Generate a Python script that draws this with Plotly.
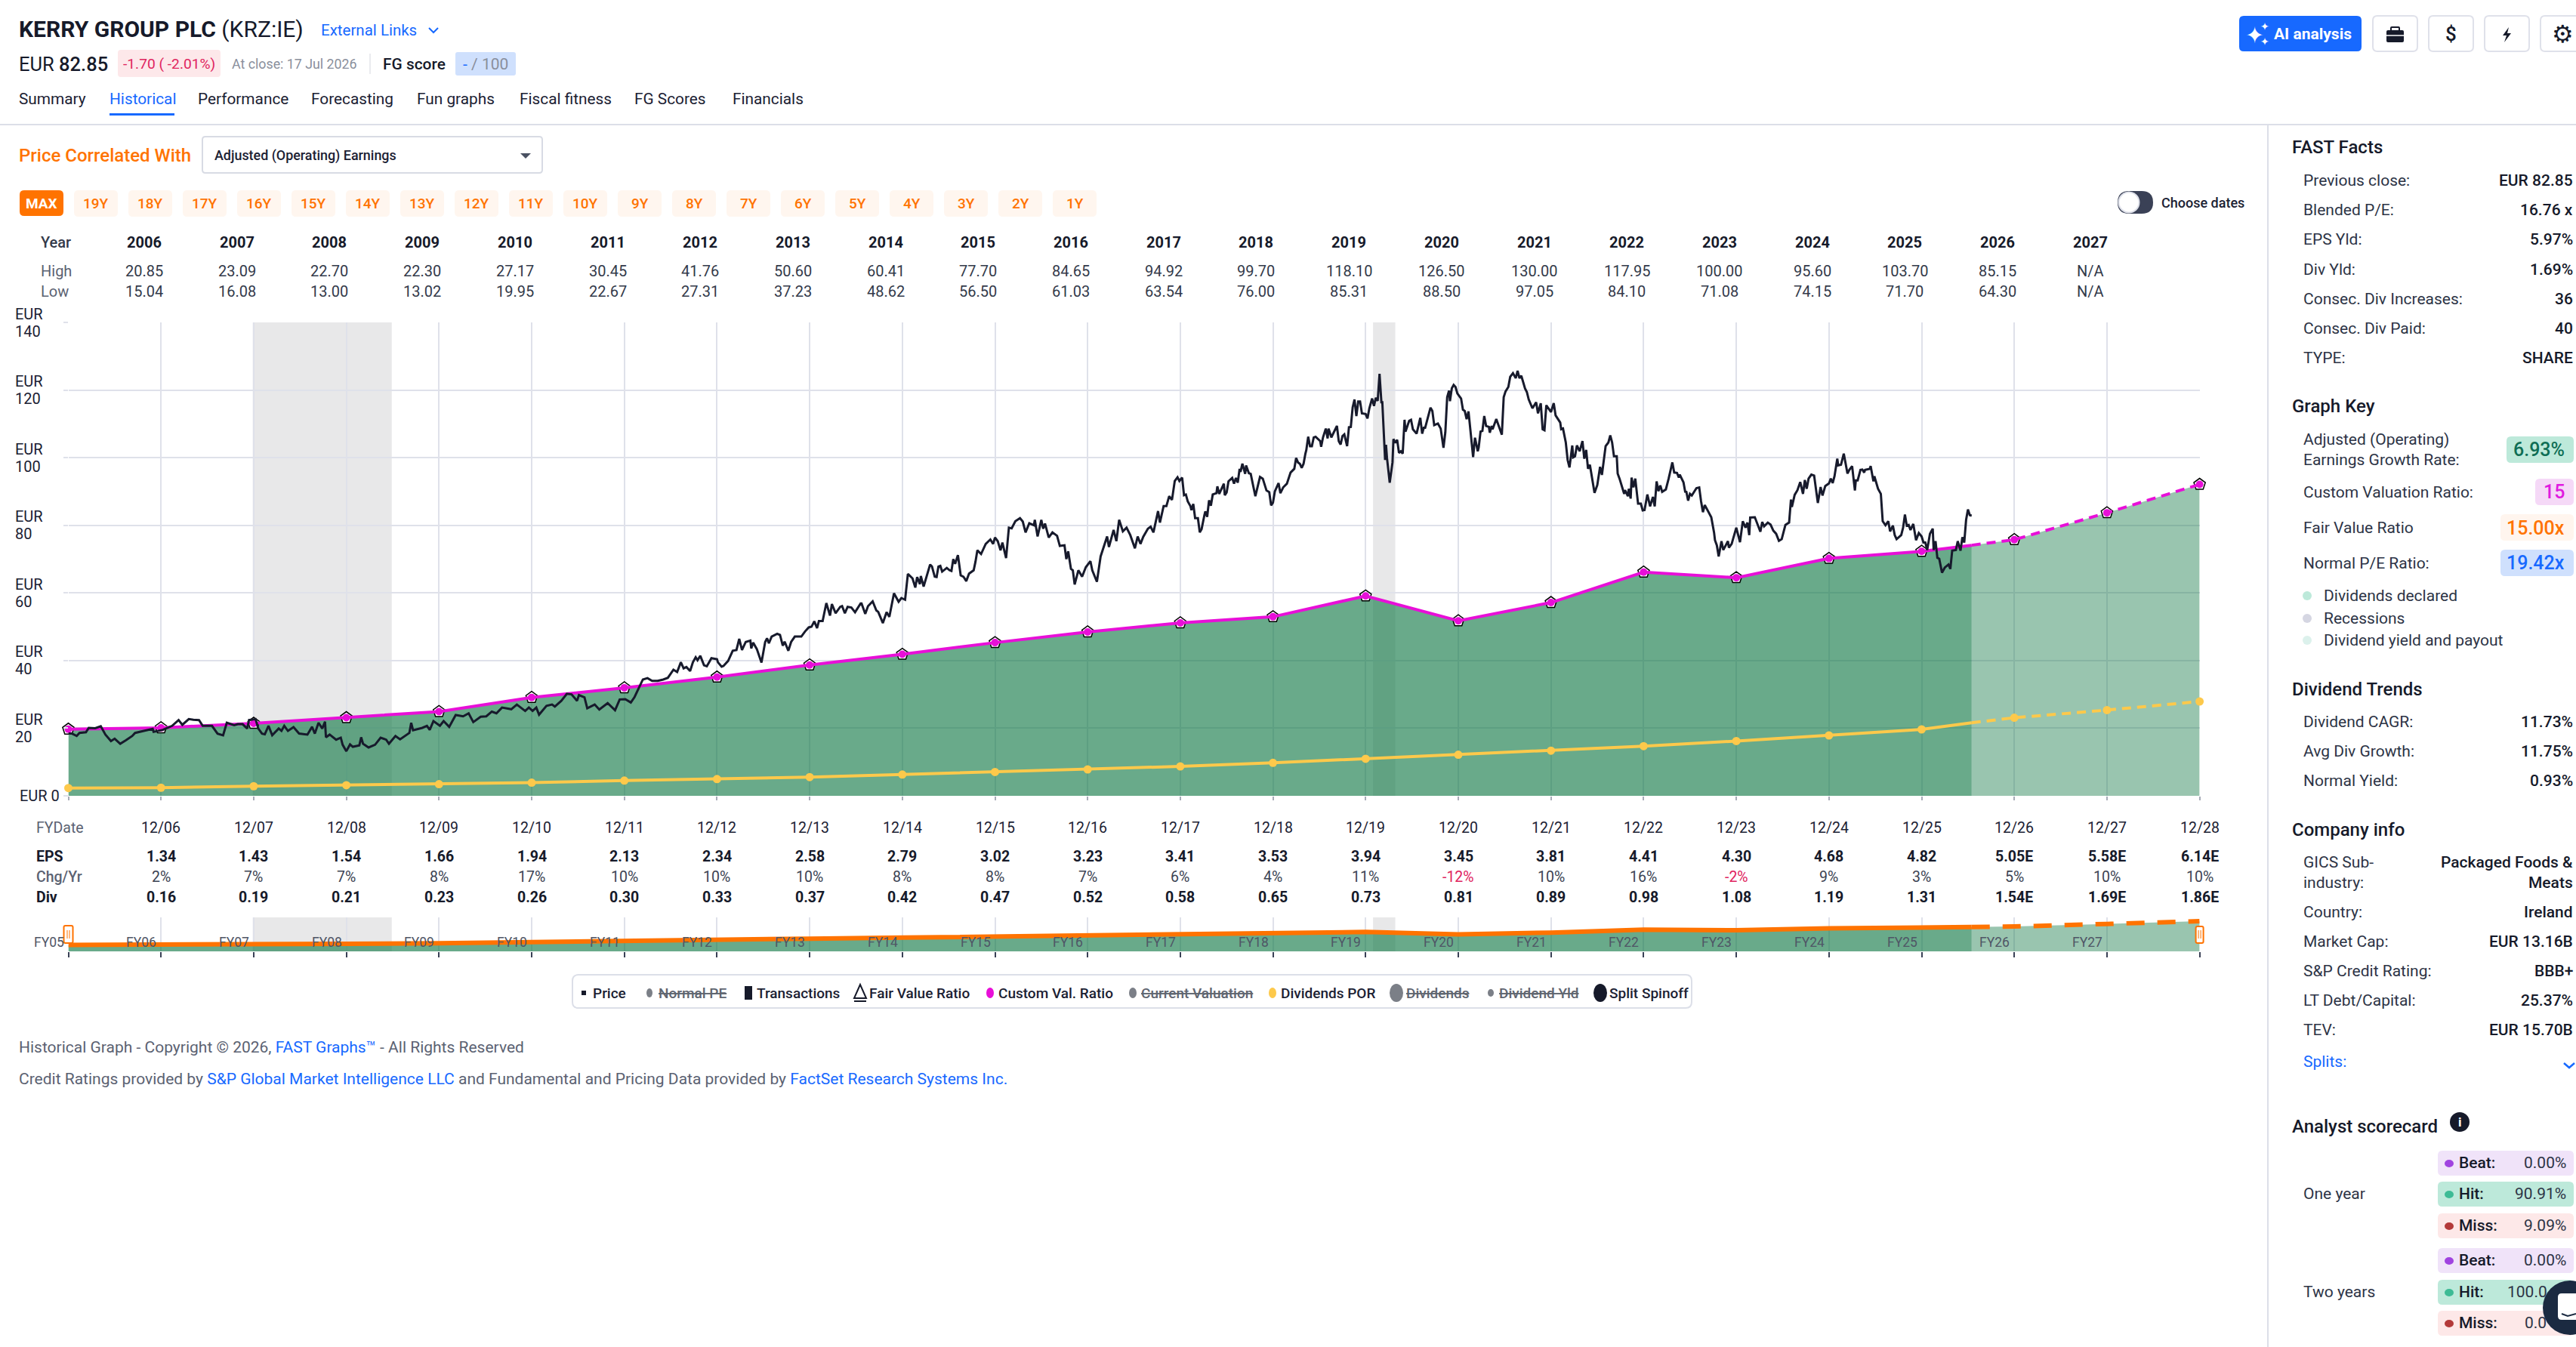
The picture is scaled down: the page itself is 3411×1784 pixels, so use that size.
import plotly.graph_objects as go

W, H = 3411, 1784
PLOT_L, PLOT_R, PLOT_T, PLOT_B = 90.5, 2912.6, 427, 1054
NAV_T, NAV_B = 1215, 1260

FONT = "Roboto, sans-serif"
DARK = "#1b2133"
GREY = "#5b6272"
BLUE = "#1769ff"
ORANGE = "#ff7300"
MAGENTA = "#e80fd8"
YELLOW = "#fdc94b"
CRIMSON = "#e0245e"
GRID = "#dfe1ea"

# x positions on the chart are decimal calendar years, so 12/05 sits at 2006.0
years = ["2006", "2007", "2008", "2009", "2010", "2011", "2012", "2013", "2014", "2015", "2016",
         "2017", "2018", "2019", "2020", "2021", "2022", "2023", "2024", "2025", "2026", "2027"]
high = ["20.85", "23.09", "22.70", "22.30", "27.17", "30.45", "41.76", "50.60", "60.41", "77.70", "84.65",
        "94.92", "99.70", "118.10", "126.50", "130.00", "117.95", "100.00", "95.60", "103.70", "85.15", "N/A"]
low = ["15.04", "16.08", "13.00", "13.02", "19.95", "22.67", "27.31", "37.23", "48.62", "56.50", "61.03",
       "63.54", "76.00", "85.31", "88.50", "97.05", "84.10", "71.08", "74.15", "71.70", "64.30", "N/A"]

fy_dates = ["12/06", "12/07", "12/08", "12/09", "12/10", "12/11", "12/12", "12/13", "12/14", "12/15", "12/16", "12/17",
            "12/18", "12/19", "12/20", "12/21", "12/22", "12/23", "12/24", "12/25", "12/26", "12/27", "12/28"]
eps = ["1.34", "1.43", "1.54", "1.66", "1.94", "2.13", "2.34", "2.58", "2.79", "3.02", "3.23", "3.41",
       "3.53", "3.94", "3.45", "3.81", "4.41", "4.30", "4.68", "4.82", "5.05E", "5.58E", "6.14E"]
chg = [2, 7, 7, 8, 17, 10, 10, 10, 8, 8, 7, 6, 4, 11, -12, 10, 16, -2, 9, 3, 5, 10, 10]
div = ["0.16", "0.19", "0.21", "0.23", "0.26", "0.30", "0.33", "0.37", "0.42", "0.47", "0.52", "0.58",
       "0.65", "0.73", "0.81", "0.89", "0.98", "1.08", "1.19", "1.31", "1.54E", "1.69E", "1.86E"]

fy_pos = [2006, 2007, 2008, 2009, 2010, 2011, 2012, 2013, 2014, 2015, 2016, 2017,
          2018, 2019, 2020, 2021, 2022, 2023, 2024, 2025, 2026, 2027, 2028, 2029]
fy_labels = ["FY05", "FY06", "FY07", "FY08", "FY09", "FY10", "FY11", "FY12", "FY13", "FY14", "FY15",
             "FY16", "FY17", "FY18", "FY19", "FY20", "FY21", "FY22", "FY23", "FY24", "FY25", "FY26", "FY27"]

# fair value and dividend lines, year ends plus the value at today's date
fair_value = [19.7, 20.1, 21.45, 23.1, 24.9, 29.1, 31.95, 35.1, 38.7, 41.85, 45.3, 48.45,
              51.15, 52.95, 59.1, 51.75, 57.15, 66.15, 64.5, 70.2, 72.3, 75.75, 83.7, 92.1]
div_por = [2.3, 2.4, 2.85, 3.15, 3.45, 3.9, 4.5, 4.95, 5.55, 6.3, 7.05, 7.8,
           8.7, 9.75, 10.95, 12.15, 13.35, 14.7, 16.2, 17.85, 19.65, 23.1, 25.35, 27.9]
today = 2026.54
fair_today = 74.1
por_today = 21.6

recessions = [(2007.99, 2009.49), (2020.08, 2020.32)]

# monthly-ish readings of the price line
price_a = [
    (2006.00, 18.4), (2006.04, 18.4), (2006.09, 17.7), (2006.12, 18.6), (2006.19, 18.8), (2006.22, 20.1),
    (2006.29, 20.0), (2006.35, 20.6), (2006.40, 18.1), (2006.46, 16.2), (2006.50, 16.9), (2006.56, 15.4),
    (2006.62, 16.4), (2006.69, 17.7), (2006.72, 18.6), (2006.81, 19.2), (2006.91, 19.8), (2006.92, 18.9),
    (2007.02, 19.5), (2007.12, 20.7), (2007.19, 22.4), (2007.23, 21.0), (2007.30, 22.7), (2007.35, 22.5),
    (2007.41, 22.4), (2007.45, 20.7), (2007.55, 20.7), (2007.61, 18.4), (2007.67, 17.9), (2007.71, 21.6),
    (2007.79, 20.9), (2007.83, 21.2), (2007.88, 21.2), (2007.93, 19.9), (2007.95, 22.4), (2008.02, 22.7),
    (2008.05, 19.9), (2008.09, 18.4), (2008.12, 18.2), (2008.16, 20.7), (2008.20, 17.9), (2008.27, 19.9),
    (2008.30, 19.2), (2008.33, 20.7), (2008.37, 19.2), (2008.43, 20.3), (2008.49, 18.4), (2008.58, 18.1),
    (2008.63, 20.4), (2008.66, 18.4), (2008.70, 21.6), (2008.74, 19.9), (2008.77, 21.9), (2008.78, 17.3),
    (2008.82, 18.1), (2008.89, 16.6), (2008.94, 17.2), (2008.96, 15.1), (2009.00, 13.2), (2009.04, 15.2),
    (2009.07, 14.5), (2009.14, 14.9), (2009.16, 17.3), (2009.18, 15.4), (2009.24, 14.3), (2009.31, 15.1),
    (2009.37, 17.2), (2009.43, 16.6), (2009.46, 15.4), (2009.53, 17.7), (2009.58, 16.7), (2009.68, 18.6),
    (2009.70, 21.6), (2009.72, 19.4), (2009.82, 20.1), (2009.87, 20.7), (2009.90, 19.5), (2009.94, 22.1),
    (2010.01, 20.7), (2010.05, 22.1), (2010.11, 20.4), (2010.18, 23.9), (2010.26, 23.5), (2010.32, 24.4),
    (2010.37, 21.8), (2010.45, 23.4), (2010.51, 23.5), (2010.57, 24.9), (2010.62, 24.4), (2010.68, 26.1),
    (2010.78, 25.6), (2010.84, 27.0), (2010.93, 25.1), (2010.97, 26.1), (2011.01, 25.1), (2011.05, 26.1),
    (2011.08, 24.0), (2011.16, 26.6), (2011.22, 27.0), (2011.25, 26.4), (2011.32, 28.1), (2011.38, 30.2),
    (2011.43, 30.0), (2011.49, 28.1), (2011.51, 29.8), (2011.57, 29.1), (2011.60, 25.9), (2011.68, 27.0),
    (2011.73, 25.5), (2011.82, 27.4), (2011.90, 25.3), (2011.95, 28.5), (2012.01, 28.6), (2012.07, 27.6),
    (2012.11, 29.2), (2012.20, 34.4), (2012.25, 34.8), (2012.30, 34.0), (2012.36, 34.0), (2012.42, 34.4),
    (2012.47, 34.9),
]
price_b = [
    (2012.53, 37.3), (2012.57, 36.6), (2012.61, 39.5), (2012.64, 37.7), (2012.67, 38.1), (2012.71, 36.9),
    (2012.74, 39.5), (2012.77, 41.0), (2012.79, 40.1), (2012.82, 41.4), (2012.86, 38.6), (2012.89, 38.3),
    (2012.94, 40.7), (2013.00, 40.4), (2013.01, 39.5), (2013.05, 38.2), (2013.07, 38.4), (2013.12, 39.9),
    (2013.17, 42.9), (2013.21, 43.1), (2013.24, 46.4), (2013.27, 43.1), (2013.31, 45.5), (2013.36, 45.9),
    (2013.37, 43.6), (2013.39, 45.3), (2013.43, 43.4), (2013.48, 39.4), (2013.52, 45.5), (2013.54, 46.6),
    (2013.56, 45.1), (2013.59, 47.1), (2013.65, 47.9), (2013.68, 47.6), (2013.71, 44.4), (2013.73, 45.6),
    (2013.77, 42.9), (2013.80, 45.5), (2013.84, 47.1), (2013.91, 47.1), (2013.95, 48.6), (2013.99, 49.8),
    (2014.02, 50.0), (2014.05, 51.6), (2014.08, 49.6), (2014.10, 51.7), (2014.14, 51.7), (2014.18, 57.0),
    (2014.22, 53.3), (2014.24, 56.7), (2014.28, 54.0), (2014.33, 55.9), (2014.35, 56.1), (2014.38, 54.0),
    (2014.41, 55.9), (2014.45, 55.7), (2014.49, 54.3), (2014.55, 56.9), (2014.56, 56.9), (2014.60, 53.8),
    (2014.63, 56.1), (2014.68, 57.5), (2014.72, 54.8), (2014.74, 54.4), (2014.79, 51.1), (2014.83, 54.3),
    (2014.86, 52.9), (2014.91, 59.9), (2014.96, 57.4), (2014.99, 58.5), (2015.03, 58.0), (2015.06, 65.6),
    (2015.11, 64.3), (2015.14, 61.6), (2015.16, 64.7), (2015.19, 62.6), (2015.20, 65.0), (2015.23, 61.9),
    (2015.30, 68.4), (2015.32, 67.8), (2015.35, 64.8), (2015.37, 64.7), (2015.39, 67.8), (2015.41, 68.0),
    (2015.43, 66.3), (2015.48, 67.4), (2015.51, 66.7), (2015.53, 66.5), (2015.55, 70.0), (2015.57, 68.6),
    (2015.60, 71.2), (2015.63, 65.2), (2015.66, 64.8), (2015.69, 63.5), (2015.72, 65.7), (2015.77, 66.7),
    (2015.79, 69.3), (2015.81, 72.6), (2015.85, 71.5), (2015.90, 74.5), (2015.95, 75.8), (2015.98, 74.5),
    (2016.00, 76.4), (2016.03, 75.3), (2016.06, 72.6), (2016.08, 74.9), (2016.12, 70.3), (2016.15, 79.3),
    (2016.18, 79.1), (2016.22, 81.2), (2016.27, 82.1), (2016.30, 81.1), (2016.33, 77.9), (2016.37, 80.6),
    (2016.42, 80.0), (2016.43, 81.6), (2016.46, 76.7), (2016.50, 81.6), (2016.52, 79.0), (2016.54, 80.5),
    (2016.58, 76.4), (2016.62, 77.9), (2016.67, 76.9), (2016.70, 73.9), (2016.75, 74.1), (2016.77, 70.0),
    (2016.79, 72.3), (2016.82, 67.1), (2016.84, 66.7), (2016.86, 62.5), (2016.90, 66.7), (2016.94, 64.8),
    (2016.98, 67.6), (2017.03, 69.4), (2017.05, 66.7), (2017.10, 63.3), (2017.14, 70.8), (2017.18, 74.5),
    (2017.21, 76.7), (2017.23, 73.6), (2017.28, 78.6), (2017.31, 75.3), (2017.34, 81.6), (2017.38, 78.2),
    (2017.42, 79.3), (2017.46, 77.1), (2017.51, 73.2), (2017.54, 76.7), (2017.57, 74.5), (2017.60, 76.6),
    (2017.65, 79.0), (2017.68, 79.6), (2017.71, 77.9), (2017.76, 84.2), (2017.78, 80.8), (2017.82, 85.7),
    (2017.85, 85.7), (2017.88, 88.6), (2017.91, 87.5), (2017.94, 93.1), (2017.97, 94.2), (2017.99, 93.1),
]
price_c = [
    (2018.02, 94.1), (2018.04, 88.9), (2018.06, 89.1), (2018.08, 87.1), (2018.11, 85.6), (2018.12, 84.5),
    (2018.14, 86.3), (2018.16, 82.1), (2018.19, 82.1), (2018.21, 77.9), (2018.23, 78.9), (2018.26, 83.0),
    (2018.27, 84.1), (2018.29, 82.5), (2018.31, 87.4), (2018.33, 85.8), (2018.35, 89.1), (2018.39, 89.5),
    (2018.40, 91.5), (2018.42, 89.3), (2018.47, 92.3), (2018.48, 88.9), (2018.50, 89.7), (2018.52, 93.0),
    (2018.56, 94.0), (2018.58, 92.3), (2018.60, 94.0), (2018.62, 92.6), (2018.64, 96.7), (2018.65, 95.8),
    (2018.67, 98.2), (2018.70, 95.2), (2018.71, 97.7), (2018.74, 95.4), (2018.76, 95.2), (2018.79, 91.2),
    (2018.81, 88.6), (2018.86, 94.3), (2018.89, 93.8), (2018.93, 90.3), (2018.96, 89.8), (2018.98, 85.9),
    (2019.00, 86.7), (2019.02, 90.0), (2019.06, 92.5), (2019.08, 89.5), (2019.11, 91.2), (2019.15, 92.3),
    (2019.19, 95.6), (2019.23, 96.7), (2019.25, 99.9), (2019.27, 98.6), (2019.29, 98.2), (2019.31, 97.0),
    (2019.33, 98.2), (2019.35, 101.2), (2019.36, 102.3), (2019.38, 106.2), (2019.40, 103.4), (2019.42, 103.4),
    (2019.44, 106.0), (2019.46, 106.2), (2019.49, 105.3), (2019.51, 104.9), (2019.52, 103.2), (2019.54, 106.0),
    (2019.57, 108.6), (2019.59, 105.7), (2019.60, 108.6), (2019.63, 106.0), (2019.69, 109.4), (2019.71, 104.9),
    (2019.73, 103.9), (2019.75, 106.4), (2019.77, 106.9), (2019.80, 103.4), (2019.82, 109.0), (2019.84, 109.1),
    (2019.86, 114.9), (2019.88, 117.2), (2019.90, 112.3), (2019.92, 116.6), (2019.94, 116.6), (2019.96, 113.1),
    (2020.00, 112.9), (2020.02, 111.6), (2020.04, 114.6), (2020.07, 117.5), (2020.09, 115.3), (2020.11, 117.7),
    (2020.13, 116.8), (2020.15, 124.8), (2020.17, 116.4), (2020.18, 116.4), (2020.21, 99.3), (2020.22, 103.8),
    (2020.23, 100.0), (2020.26, 92.6), (2020.29, 98.6), (2020.30, 105.5), (2020.32, 104.4), (2020.34, 105.3),
    (2020.36, 101.4), (2020.38, 101.9), (2020.40, 101.2), (2020.42, 111.2), (2020.43, 107.7), (2020.47, 110.9),
    (2020.49, 111.2), (2020.51, 108.4), (2020.55, 107.1), (2020.59, 111.8), (2020.61, 107.1), (2020.63, 109.1),
    (2020.64, 108.6), (2020.67, 111.6), (2020.70, 114.8), (2020.72, 113.8), (2020.74, 109.6), (2020.78, 110.1),
    (2020.81, 108.6), (2020.84, 102.9), (2020.86, 107.5), (2020.88, 117.9), (2020.90, 119.8), (2020.91, 116.7),
    (2020.93, 120.5), (2020.95, 121.5), (2020.97, 120.9), (2020.99, 119.0), (2021.03, 117.5), (2021.05, 114.2),
    (2021.07, 113.8), (2021.09, 111.4), (2021.11, 113.7), (2021.13, 108.3), (2021.16, 100.2), (2021.18, 105.9),
    (2021.21, 101.9), (2021.22, 103.0), (2021.24, 107.7), (2021.26, 107.9), (2021.28, 112.3), (2021.30, 109.4),
    (2021.33, 109.1), (2021.34, 107.4), (2021.36, 109.4), (2021.37, 108.4), (2021.41, 111.4), (2021.47, 106.8),
    (2021.49, 117.9), (2021.51, 119.6), (2021.54, 120.9), (2021.56, 123.9), (2021.59, 125.0), (2021.62, 123.5),
    (2021.64, 125.7), (2021.66, 123.5), (2021.68, 124.2), (2021.72, 120.5), (2021.74, 119.4), (2021.76, 117.2),
    (2021.80, 114.6), (2021.84, 116.4), (2021.86, 113.1), (2021.89, 116.1), (2021.91, 108.4), (2021.93, 108.1),
    (2021.95, 115.5), (2022.00, 113.5), (2022.03, 116.1), (2022.05, 112.5),
]
price_d = [
    (2022.10, 110.4), (2022.11, 108.4), (2022.13, 108.6), (2022.16, 104.5), (2022.18, 99.3), (2022.20, 97.1),
    (2022.23, 103.6), (2022.24, 100.1), (2022.26, 100.4), (2022.28, 103.6), (2022.31, 101.9), (2022.34, 104.9),
    (2022.36, 99.7), (2022.38, 102.3), (2022.40, 96.7), (2022.42, 97.9), (2022.44, 94.5), (2022.45, 93.4),
    (2022.47, 89.6), (2022.50, 91.9), (2022.52, 95.3), (2022.53, 97.3), (2022.55, 94.9), (2022.58, 102.3),
    (2022.59, 103.4), (2022.62, 104.5), (2022.64, 106.6), (2022.66, 104.5), (2022.68, 100.4), (2022.71, 100.4),
    (2022.72, 95.3), (2022.74, 93.8), (2022.77, 90.8), (2022.79, 89.3), (2022.80, 90.4), (2022.83, 88.6),
    (2022.84, 90.8), (2022.86, 87.9), (2022.87, 94.1), (2022.89, 91.2), (2022.91, 93.8), (2022.94, 86.4),
    (2022.97, 86.4), (2022.99, 84.4), (2023.01, 84.5), (2023.04, 89.1), (2023.07, 85.6), (2023.10, 88.4),
    (2023.12, 85.6), (2023.14, 93.0), (2023.16, 90.1), (2023.18, 91.8), (2023.20, 89.9), (2023.24, 90.6),
    (2023.27, 93.8), (2023.31, 98.6), (2023.33, 95.6), (2023.36, 95.5), (2023.38, 94.1), (2023.39, 95.0),
    (2023.43, 92.7), (2023.45, 89.7), (2023.46, 90.1), (2023.48, 87.3), (2023.50, 89.3), (2023.52, 88.8),
    (2023.57, 91.0), (2023.60, 91.2), (2023.62, 87.1), (2023.64, 83.9), (2023.66, 86.0), (2023.69, 84.5),
    (2023.73, 82.4), (2023.76, 77.9), (2023.77, 75.6), (2023.79, 74.1), (2023.81, 70.8), (2023.84, 75.3),
    (2023.86, 72.7), (2023.91, 75.3), (2023.92, 73.4), (2023.95, 74.5), (2024.00, 79.3), (2024.04, 75.0),
    (2024.07, 81.2), (2024.10, 79.3), (2024.12, 80.8), (2024.14, 77.1), (2024.15, 82.3), (2024.20, 82.4),
    (2024.26, 78.1), (2024.28, 81.0), (2024.30, 79.7), (2024.34, 80.8), (2024.37, 80.2), (2024.40, 78.4),
    (2024.43, 77.5), (2024.46, 75.4), (2024.49, 75.9), (2024.53, 80.1), (2024.57, 80.8), (2024.59, 87.6),
    (2024.60, 85.4), (2024.63, 89.0), (2024.66, 90.4), (2024.69, 92.8), (2024.72, 89.3), (2024.74, 93.4),
    (2024.76, 90.8), (2024.78, 93.8), (2024.81, 95.0), (2024.84, 94.7), (2024.88, 86.6), (2024.91, 91.3),
    (2024.93, 88.8), (2024.96, 91.6), (2025.00, 92.4), (2025.02, 93.8), (2025.04, 92.5), (2025.06, 94.5),
    (2025.09, 99.7), (2025.10, 97.7), (2025.13, 97.9), (2025.16, 101.2), (2025.20, 95.3), (2025.22, 96.4),
    (2025.25, 97.5), (2025.28, 90.3), (2025.29, 93.3), (2025.31, 93.3), (2025.34, 96.4), (2025.36, 96.5),
    (2025.38, 95.6), (2025.39, 96.4), (2025.44, 96.7), (2025.45, 97.5), (2025.48, 93.0), (2025.49, 94.5),
    (2025.53, 90.8), (2025.56, 89.3), (2025.58, 81.2), (2025.61, 80.0), (2025.64, 81.2), (2025.66, 78.2),
    (2025.69, 79.9), (2025.71, 77.1), (2025.73, 75.9), (2025.78, 77.1), (2025.80, 79.3), (2025.82, 83.2),
    (2025.84, 79.9), (2025.86, 80.1), (2025.88, 78.6), (2025.91, 80.4), (2025.94, 75.6), (2025.97, 77.7),
    (2026.00, 76.7), (2026.02, 74.9), (2026.04, 74.9), (2026.06, 72.7), (2026.09, 77.5), (2026.12, 79.0),
    (2026.13, 72.7), (2026.15, 75.3), (2026.17, 70.4), (2026.19, 70.1), (2026.22, 66.0), (2026.25, 67.5),
    (2026.29, 68.4), (2026.31, 67.1), (2026.33, 72.5), (2026.37, 72.7), (2026.39, 75.3), (2026.42, 72.5),
    (2026.44, 76.5), (2026.46, 74.9), (2026.48, 81.6), (2026.50, 84.7), (2026.52, 83.0), (2026.54, 82.85),
]
price = price_a + price_b + price_c + price_d

tabs = ["Summary", "Historical", "Performance", "Forecasting", "Fun graphs", "Fiscal fitness", "FG Scores", "Financials"]
tab_x = [25, 145, 262, 412, 552, 688, 840, 970]
range_buttons = ["19Y", "18Y", "17Y", "16Y", "15Y", "14Y", "13Y", "12Y", "11Y", "10Y",
                 "9Y", "8Y", "7Y", "6Y", "5Y", "4Y", "3Y", "2Y", "1Y"]

fast_facts = [("Previous close:", "EUR 82.85"), ("Blended P/E:", "16.76 x"), ("EPS Yld:", "5.97%"),
              ("Div Yld:", "1.69%"), ("Consec. Div Increases:", "36"), ("Consec. Div Paid:", "40"),
              ("TYPE:", "SHARE")]
div_trends = [("Dividend CAGR:", "11.73%"), ("Avg Div Growth:", "11.75%"), ("Normal Yield:", "0.93%")]
company_info = [("Country:", "Ireland"), ("Market Cap:", "EUR 13.16B"), ("S&P Credit Rating:", "BBB+"),
                ("LT Debt/Capital:", "25.37%"), ("TEV:", "EUR 15.70B")]
# the chat bubble hides the end of the last two values in the screenshot
scorecard = [("Beat:", "0.00%"), ("Hit:", "90.91%"), ("Miss:", "9.09%"),
             ("Beat:", "0.00%"), ("Hit:", "100.0"), ("Miss:", "0.0")]

shapes = []
notes = []


def px(x):
    return x / W


def py(y):
    return 1 - y / H


def text(x, y, s, size=21, color=DARK, anchor="left", weight=400, family=FONT, xref="paper"):
    if xref == "paper":
        # annotation boxes carry a little padding, take it back so text starts where it should
        nudge = {"left": -2, "right": 2, "center": 0}[anchor]
        x = px(x + nudge)
    notes.append(dict(x=x, y=py(y), xref=xref, yref="paper", text=s, showarrow=False, xanchor=anchor, yanchor="middle",
                      align=anchor, font=dict(family=family, size=size, color=color, weight=weight)))


def box(x0, y0, x1, y1, r=6, fill="rgba(0,0,0,0)", line=None, width=2):
    a, b, c, d = px(x0), py(y0), px(x1), py(y1)
    rx, ry = r / W, r / H
    path = (f"M{a + rx},{b} L{c - rx},{b} Q{c},{b} {c},{b - ry} L{c},{d + ry} Q{c},{d} {c - rx},{d} "
            f"L{a + rx},{d} Q{a},{d} {a},{d + ry} L{a},{b - ry} Q{a},{b} {a + rx},{b} Z")
    shapes.append(dict(type="path", path=path, xref="paper", yref="paper", fillcolor=fill,
                       line=dict(color=line or fill, width=width if line else 0), layer="above"))


def dot(x, y, rx, ry=None, fill=GREY):
    ry = ry or rx
    shapes.append(dict(type="circle", xref="paper", yref="paper", x0=px(x - rx), x1=px(x + rx), y0=py(y + ry), y1=py(y - ry),
                       fillcolor=fill, line=dict(width=0), layer="above"))


def rule(x0, y0, x1, y1, color=GRID, width=2):
    shapes.append(dict(type="line", xref="paper", yref="paper", x0=px(x0), x1=px(x1), y0=py(y0), y1=py(y1),
                       line=dict(color=color, width=width), layer="above"))


def poly(points, fill=None, line=None, width=3):
    path = "M" + " L".join(f"{px(a)},{py(b)}" for a, b in points)
    if fill:
        path += " Z"
    shapes.append(dict(type="path", path=path, xref="paper", yref="paper", fillcolor=fill or "rgba(0,0,0,0)",
                       line=dict(color=line or fill, width=width if line else 0), layer="above"))


fig = go.Figure()

# main chart, earnings area first so the lines sit on top
split = fair_value.index(72.3) + 1
hist_t = fy_pos[:split] + [today]
fcst_t = [today] + fy_pos[split:]
fig.add_trace(go.Scatter(x=hist_t, y=fair_value[:split] + [fair_today], mode="none", fill="tozeroy",
                         fillcolor="rgba(18,120,70,0.63)"))
fig.add_trace(go.Scatter(x=fcst_t, y=[fair_today] + fair_value[split:], mode="none", fill="tozeroy",
                         fillcolor="rgba(18,120,70,0.43)"))
fig.add_trace(go.Scatter(x=hist_t, y=div_por[:split] + [por_today], mode="lines", line=dict(color=YELLOW, width=4)))
fig.add_trace(go.Scatter(x=fcst_t, y=[por_today] + div_por[split:], mode="lines",
                         line=dict(color=YELLOW, width=4, dash="12px,8px")))
fig.add_trace(go.Scatter(x=fy_pos, y=div_por, mode="markers", cliponaxis=False, marker=dict(color=YELLOW, size=11)))
fig.add_trace(go.Scatter(x=fy_pos, y=fair_value, mode="markers", cliponaxis=False,
                         marker=dict(symbol="pentagon", color="white", size=16, line=dict(color="black", width=1.5))))
fig.add_trace(go.Scatter(x=hist_t, y=fair_value[:split] + [fair_today], mode="lines", line=dict(color=MAGENTA, width=4)))
fig.add_trace(go.Scatter(x=fcst_t, y=[fair_today] + fair_value[split:], mode="lines",
                         line=dict(color=MAGENTA, width=4, dash="12px,8px")))
fig.add_trace(go.Scatter(x=fy_pos, y=fair_value, mode="markers", cliponaxis=False, marker=dict(color=MAGENTA, size=10)))
fig.add_trace(go.Scatter(x=[p[0] for p in price], y=[p[1] for p in price], mode="lines",
                         line=dict(color="#171a2c", width=3)))

# navigator strip under the table
fig.add_trace(go.Scatter(x=hist_t, y=fair_value[:split] + [fair_today], mode="none", fill="tozeroy", xaxis="x2", yaxis="y2",
                         fillcolor="rgba(18,120,70,0.63)"))
fig.add_trace(go.Scatter(x=fcst_t, y=[fair_today] + fair_value[split:], mode="none", fill="tozeroy", xaxis="x2", yaxis="y2",
                         fillcolor="rgba(18,120,70,0.43)"))
fig.add_trace(go.Scatter(x=hist_t, y=fair_value[:split] + [fair_today], mode="lines", xaxis="x2", yaxis="y2",
                         line=dict(color=ORANGE, width=6)))
fig.add_trace(go.Scatter(x=fcst_t, y=[fair_today] + fair_value[split:], mode="lines", xaxis="x2", yaxis="y2",
                         line=dict(color=ORANGE, width=6, dash="24px,17px")))

for start, end in recessions:
    for xr, yr, top in [("x", "y", 140), ("x2", "y2", 103.6)]:
        fig.add_shape(type="rect", xref=xr, yref=yr, x0=start, x1=end, y0=0, y1=top,
                      fillcolor="#e8e8e9", line_width=0, layer="below")

box(PLOT_L - 6, 1226, PLOT_L + 6, 1249, r=2, fill="white", line=ORANGE, width=2)
box(PLOT_R - 5, 1227, PLOT_R + 5, 1249, r=2, fill="white", line=ORANGE, width=2)
for x_mid in (PLOT_L, PLOT_R):
    rule(x_mid - 1.5, 1232, x_mid - 1.5, 1243, color=ORANGE, width=1)
    rule(x_mid + 1.5, 1232, x_mid + 1.5, 1243, color=ORANGE, width=1)

# header
text(25, 38, "<b>KERRY GROUP PLC</b> (KRZ:IE)", size=30, color="#161a2a")
text(425, 40, "External Links", size=20.5, color=BLUE)
poly([(568, 37), (574, 43), (580, 37)], line=BLUE, width=2)
text(25, 85, "EUR <span style='font-weight:500'>82.85</span>", size=25.5, color="#161a2a")
box(156, 66, 292, 102, r=4, fill="#fde8ea")
text(224, 84, "-1.70 ( -2.01%)", size=19.2, color=CRIMSON, anchor="center")
text(307, 84, "At close: 17 Jul 2026", size=17.8, color="#8a8f9c")
rule(490, 71, 490, 98, color="#e3e4ea", width=1.5)
text(507, 85, "FG score", size=20.9, color="#161a2a", weight=500)
box(603, 69, 683, 100, r=3, fill="#cfe0fd")
text(643, 85, "<span style='color:#1769ff'>-</span> / 100", size=21, color="#8a8f9c", anchor="center")
for name, x in zip(tabs, tab_x):
    text(x, 131, name, size=20.8, color=BLUE if name == "Historical" else DARK)
rule(145, 151.5, 231, 151.5, color=BLUE, width=3)
rule(0, 165, W, 165, color="#dcdfe8", width=2)
rule(3003, 165, 3003, H, color="#dcdfe8", width=2)

text(25, 206, "Price Correlated With", size=24, color=ORANGE, weight=500)
box(268, 181, 718, 229, r=4, fill="white", line="#d8dbe4", width=2)
text(284, 206, "Adjusted (Operating) Earnings", size=17.9, color=DARK, weight=500)
poly([(689, 203), (703, 203), (696, 210)], fill="#4a5162")

box(26, 252, 84, 286, r=6, fill=ORANGE)
text(55, 269, "MAX", size=19, color="white", anchor="center", weight=700)
for i, label in enumerate(range_buttons):
    cx = 127 + i * 72
    box(cx - 29, 252, cx + 29, 287, r=6, fill="#fff6ef")
    text(cx, 269, label, size=19, color=ORANGE, anchor="center", weight=500)
box(2804, 253, 2851, 283, r=15, fill="#3a4156")
dot(2819, 268, 14.5, fill="#dfe1ea")
dot(2819, 268, 12.5, fill="white")
text(2862, 268, "Choose dates", size=18, color=DARK, weight=500)

# high / low table above the plot
text(54, 321, "Year", size=20, color="#333a4a", weight=500)
text(54, 359, "High", size=20, color=GREY)
text(54, 386, "Low", size=20, color=GREY)
for i, (y_lab, hi, lo) in enumerate(zip(years, high, low)):
    cx = 191 + i * 122.7
    text(cx, 321, y_lab, size=20, color="#161a2a", anchor="center", weight=700)
    text(cx, 359, hi, size=20, color="#333a4a", anchor="center")
    text(cx, 386, lo, size=20, color="#333a4a", anchor="center")

# price axis labels
for tick in [20, 40, 60, 80, 100, 120, 140]:
    for line, shift in [("EUR", 11.5), (str(tick), -11.5)]:
        notes.append(dict(x=px(18), y=tick, xref="paper", yref="y", yshift=shift, text=line, showarrow=False,
                          xanchor="left", yanchor="middle", font=dict(family=FONT, size=20, color=DARK)))
notes.append(dict(x=px(24), y=0, xref="paper", yref="y", text="EUR 0", showarrow=False, xanchor="left", yanchor="middle",
                  font=dict(family=FONT, size=20, color=DARK)))

# earnings table below the plot
text(48, 1096, "FYDate", size=19.5, color=GREY)
text(48, 1134, "EPS", size=19.5, color="#161a2a", weight=700)
text(48, 1161, "Chg/Yr", size=19.5, color=GREY, weight=500)
text(48, 1188, "Div", size=19.5, color="#161a2a", weight=700)
for t, fy, e, c, d in zip(fy_pos[1:], fy_dates, eps, chg, div):
    text(t, 1096, fy, size=19.5, color=DARK, anchor="center", xref="x")
    text(t, 1134, e, size=19.5, color="#161a2a", anchor="center", weight=700, xref="x")
    text(t, 1161, f"{c}%", size=19.5, color=CRIMSON if c < 0 else "#3c4353", anchor="center", xref="x")
    text(t, 1188, d, size=19.5, color="#161a2a", anchor="center", weight=700, xref="x")

for t, lab in zip(fy_pos, fy_labels):
    notes.append(dict(x=t, y=py(1248), xref="x", yref="paper", xshift=-26, text=lab, showarrow=False,
                      xanchor="center", yanchor="middle", font=dict(family=FONT, size=17.5, color="#4f5666")))

# chart legend strip
box(758, 1291, 2240, 1335, r=8, fill="white", line="#dcdfe8", width=2)
legend_y = 1315
box(770, legend_y - 3, 776, legend_y + 3, r=0, fill="#161a2a")
text(785, legend_y, "Price", size=19, weight=500)
dot(860, legend_y, 4, 6, fill="#7b7f87")
text(872, legend_y, "<s>Normal PE</s>", size=19, color="#5f6570", weight=500)
box(986, legend_y - 9, 996, legend_y + 9, r=0, fill="#161a2a")
text(1002, legend_y, "Transactions", size=19, weight=500)
poly([(1139, legend_y - 11), (1131, legend_y + 7), (1147, legend_y + 7)], fill="white", line="#161a2a", width=2)
rule(1131, legend_y + 11, 1147, legend_y + 11, color="#161a2a", width=2)
text(1151, legend_y, "Fair Value Ratio", size=19, weight=500)
dot(1311, legend_y, 5, 7, fill=MAGENTA)
text(1322, legend_y, "Custom Val. Ratio", size=19, weight=500)
dot(1500, legend_y, 5, 7, fill="#7b7f87")
text(1511, legend_y, "<s>Current Valuation</s>", size=19, color="#5f6570", weight=500)
dot(1685, legend_y, 5, 7, fill=YELLOW)
text(1696, legend_y, "Dividends POR", size=19, weight=500)
dot(1849, legend_y, 9, 12, fill="#7b7f87")
text(1862, legend_y, "<s>Dividends</s>", size=19, color="#5f6570", weight=500)
dot(1974, legend_y, 4, 5, fill="#7b7f87")
text(1985, legend_y, "<s>Dividend Yld</s>", size=19, color="#5f6570", weight=500)
dot(2119, legend_y, 9, 12, fill="#161a2a")
text(2131, legend_y, "Split Spinoff", size=19, weight=500)

# footer
link = "<span style='color:#1769ff'>%s</span>"
text(25, 1387, "Historical Graph - Copyright © 2026, " + link % "FAST Graphs™" + " - All Rights Reserved", size=21, color=GREY)
text(25, 1429, "Credit Ratings provided by " + link % "S&P Global Market Intelligence LLC"
     + " and Fundamental and Pricing Data provided by " + link % "FactSet Research Systems Inc.", size=21, color=GREY)

# toolbar top right
box(2965, 21, 3127, 68, r=6, fill=BLUE)
text(3011, 45, "AI analysis", size=21, color="white", weight=700)
text(2985, 46, "✦", size=30, color="white", anchor="center", family="DejaVu Sans")
text(2999, 35, "✦", size=14, color="white", anchor="center", family="DejaVu Sans")
text(2999, 55, "✦", size=14, color="white", anchor="center", family="DejaVu Sans")
for x0 in (3142, 3216, 3290, 3364):
    box(x0, 21, x0 + 59, 68, r=6, fill="white", line="#dfe1ea", width=2)
box(3160, 40, 3183, 56, r=2, fill="#161a2a")
box(3166, 36, 3177, 41, r=1, fill="rgba(0,0,0,0)", line="#161a2a", width=2)
rule(3160, 47, 3183, 47, color="white", width=1.5)
text(3245, 45, "$", size=26, color="#161a2a", anchor="center", weight=500)
poly([(3322, 36), (3314, 47), (3319, 47), (3316, 56), (3325, 44), (3320, 44)], fill="#161a2a")
text(3393, 45, "⚙", size=32, color="#161a2a", anchor="center", family="DejaVu Sans")


# sidebar
def side_row(y, label, value):
    text(3050, y, label, size=21, color="#2d3446")
    text(3407, y, value, size=21, color="#161a2a", anchor="right", weight=500)


text(3035, 195, "FAST Facts", size=24, color="#161a2a", weight=500)
for i, (label, value) in enumerate(fast_facts):
    side_row(239 + i * 39.2, label, value)

text(3035, 538, "Graph Key", size=24, color="#161a2a", weight=500)
text(3050, 581.5, "Adjusted (Operating)", size=21, color="#2d3446")
text(3050, 608.5, "Earnings Growth Rate:", size=21, color="#2d3446")
box(3319, 578, 3408, 613, r=6, fill="#bde9da")
text(3396, 595, "6.93%", size=25, color="#0f6e55", anchor="right", weight=500)
text(3050, 651.5, "Custom Valuation Ratio:", size=21, color="#2d3446")
box(3357, 634, 3408, 669, r=6, fill="#f5d9f7")
text(3396, 651, "15", size=25, color="#e01be0", anchor="right", weight=500)
text(3050, 699, "Fair Value Ratio", size=21, color="#2d3446")
box(3311, 681, 3408, 716, r=6, fill="#fff5ee")
text(3396, 699, "15.00x", size=25, color=ORANGE, anchor="right", weight=500)
text(3050, 746, "Normal P/E Ratio:", size=21, color="#2d3446")
box(3311, 728, 3408, 763, r=6, fill="#cfe0fd")
text(3396, 746, "19.42x", size=25, color=BLUE, anchor="right", weight=500)
for y, label, col in [(789, "Dividends declared", "#bde9da"), (819, "Recessions", "#d5d6e2"),
                      (848, "Dividend yield and payout", "#dcf1ec")]:
    dot(3055, y, 6, fill=col)
    text(3077, y, label, size=21, color="#2d3446")

text(3035, 913, "Dividend Trends", size=24, color="#161a2a", weight=500)
for i, (label, value) in enumerate(div_trends):
    side_row(956 + i * 39, label, value)

text(3035, 1099, "Company info", size=24, color="#161a2a", weight=500)
text(3050, 1142, "GICS Sub-", size=21, color="#2d3446")
text(3050, 1169, "industry:", size=21, color="#2d3446")
text(3407, 1142, "Packaged Foods &", size=21, color="#161a2a", anchor="right", weight=500)
text(3407, 1169, "Meats", size=21, color="#161a2a", anchor="right", weight=500)
for i, (label, value) in enumerate(company_info):
    side_row(1208 + i * 39, label, value)
text(3050, 1406, "Splits:", size=21, color=BLUE)
poly([(3395, 1408), (3402, 1414), (3409, 1408)], line=BLUE, width=2.5)

text(3035, 1492, "Analyst scorecard", size=24, color="#161a2a", weight=500)
dot(3257, 1486, 13, fill="#161a2a")
text(3257, 1486, "i", size=17, color="white", anchor="center", weight=700)
text(3050, 1581, "One year", size=21, color="#2d3446")
text(3050, 1711, "Two years", size=21, color="#2d3446")
pill_colors = {"Beat:": ("#f0e3f9", "#a043e0"), "Hit:": ("#bde9da", "#3dbb95"), "Miss:": ("#fde8e8", "#b33a3a")}
for (label, value), y in zip(scorecard, [1540, 1581, 1623, 1669, 1711, 1752]):
    bg, mark = pill_colors[label]
    box(3228, y - 16, 3408, y + 17, r=6, fill=bg)
    dot(3243, y + 1, 6, 5, fill=mark)
    text(3256, y, label, size=21, color="#161a2a", weight=500)
    if value.endswith("%"):
        text(3398, y, value, size=21, color="#2d3446", anchor="right")
    else:
        text(3320 if value == "100.0" else 3343, y, value, size=21, color="#2d3446")

# chat bubble over the corner of the scorecard
dot(3403, 1732, 36, fill="#1b2a41")
box(3387, 1713, 3425, 1748, r=5, fill="white")
poly([(3392, 1740), (3400, 1743), (3411, 1740)], line="#1b2a41", width=2)

ticks = fy_pos
fig.update_layout(
    width=W, height=H, margin=dict(l=0, r=0, t=0, b=0), showlegend=False,
    paper_bgcolor="white", plot_bgcolor="white", font=dict(family=FONT),
    xaxis=dict(domain=[px(PLOT_L), px(PLOT_R)], range=[2006, 2029], tickvals=ticks, showticklabels=False,
               showgrid=True, gridcolor=GRID, gridwidth=2, ticks="outside", ticklen=5, tickcolor="#a8acb8",
               tickwidth=1.5, zeroline=False),
    yaxis=dict(domain=[py(PLOT_B), py(PLOT_T)], range=[0, 140], tickvals=[0, 20, 40, 60, 80, 100, 120, 140],
               showticklabels=False, showgrid=True, gridcolor=GRID, gridwidth=2, ticks="outside", ticklen=6,
               tickcolor=GRID, tickwidth=2, zeroline=False),
    xaxis2=dict(domain=[px(PLOT_L), px(PLOT_R)], range=[2006, 2029], anchor="y2", tickvals=ticks, showticklabels=False,
                showgrid=True, gridcolor=GRID, gridwidth=1.5, ticks="outside", ticklen=7, tickcolor="#3a4156",
                tickwidth=1.5, zeroline=False),
    yaxis2=dict(domain=[py(NAV_B), py(NAV_T)], range=[0, 103.6], anchor="x2", visible=False),
    shapes=list(fig.layout.shapes) + shapes,
    annotations=notes,
)

fig.write_html("out.html", config={"displayModeBar": False},
               post_script="document.body.style.margin='0';document.body.style.overflow='hidden';")
